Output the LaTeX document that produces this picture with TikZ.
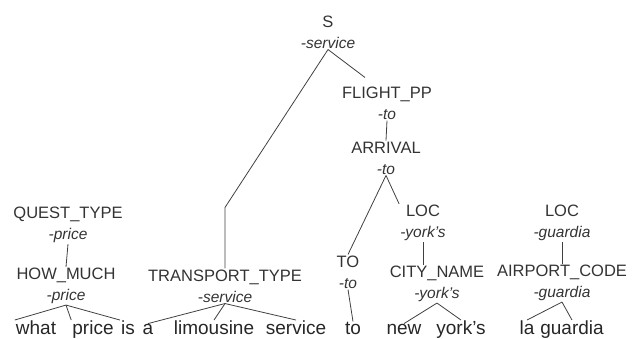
\documentclass[tikz,border=0pt]{standalone}
\usepackage{fontspec}
\setmainfont{Liberation Sans}
\newcommand{\semtag}[1]{{\fontsize{15.5}{21}\selectfont\itshape -#1}}
\tikzset{
  cat/.style={align=center, inner sep=1pt, text=black!80, font=\fontsize{16.5}{21}\selectfont},
  word/.style={anchor=base, inner sep=1pt, text=black!85, font=\fontsize{19}{22}\selectfont},
  branch/.style={draw=black!75, line width=0.8pt}
}
\begin{document}
\begin{tikzpicture}[x=1pt, y=-1pt]
\useasboundingbox (0,0) rectangle (633,339);
% categories
\node[cat] (s) at (328, 32) {S\\\semtag{service}};
\node[cat] (flightpp) at (387, 103) {FLIGHT\_PP\\\semtag{to}};
\node[cat] (arrival) at (386, 158) {ARRIVAL\\\semtag{to}};
\node[cat] (questtype) at (68, 225) {QUEST\_TYPE\\\semtag{price}};
\node[cat] (howmuch) at (66, 286) {HOW\_MUCH\\\semtag{price}};
\node[cat] (transport) at (225, 286) {TRANSPORT\_TYPE\\\semtag{service}};
\node[cat] (to) at (348, 272) {TO\\\semtag{to}};
\node[cat] (loca) at (423, 223) {LOC\\\semtag{york's}};
\node[cat] (cityname) at (437, 284) {CITY\_NAME\\\semtag{york's}};
\node[cat] (locb) at (562, 223) {LOC\\\semtag{guardia}};
\node[cat] (airport) at (562, 283) {AIRPORT\_CODE\\\semtag{guardia}};
% words
\node[word] (what) at (36, 335) {what};
\node[word] (price) at (93, 335) {price};
\node[word] (is) at (128, 335) {is};
\node[word] (a) at (148, 335) {a};
\node[word] (limousine) at (214, 335) {limousine};
\node[word] (service) at (296, 335) {service};
\node[word] (wto) at (353, 335) {to};
\node[word] (new) at (404, 335) {new};
\node[word] (yorks) at (461, 335) {york's};
\node[word] (la) at (527, 335) {la};
\node[word] (guardia) at (572, 335) {guardia};
% branches
\draw[branch] (s.south) -- ([yshift=61pt]transport.north) -- (transport.north);
\draw[branch] (s.south) -- ([shift={(-22pt,8pt)}]flightpp.north);
\draw[branch] (flightpp.south) -- (arrival.north);
\draw[branch] (arrival.south) -- (to.north);
\draw[branch] (arrival.south) -- (loca.north west);
\draw[branch] (questtype.south) -- (howmuch.north);
\draw[branch] (howmuch.south) -- (what.north west);
\draw[branch] (howmuch.south) -- (price.north west);
\draw[branch] (howmuch.south) -- (is.north west);
\draw[branch] (transport.south) -- (a.north);
\draw[branch] (transport.south) -- (limousine.north);
\draw[branch] (transport.south) -- (service.north);
\draw[branch] (to.south) -- (wto.north);
\draw[branch] (loca.south) -- (loca.south |- cityname.north);
\draw[branch] (cityname.south) -- (new.north);
\draw[branch] (cityname.south) -- (yorks.north);
\draw[branch] (locb.south) -- (airport.north);
\draw[branch] (airport.south) -- (la.north);
\draw[branch] (airport.south) -- (guardia.north);
\end{tikzpicture}
\end{document}
